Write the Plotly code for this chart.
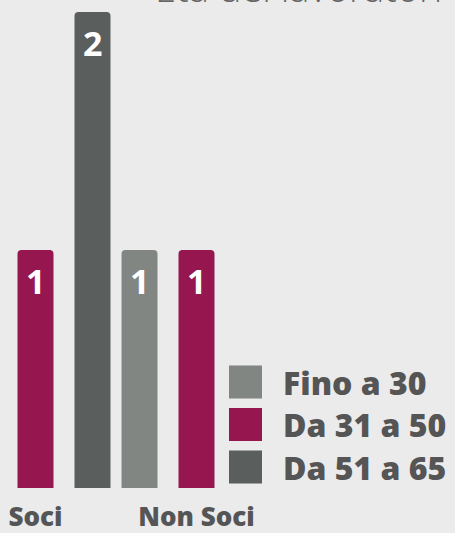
import plotly.graph_objects as go

# ---- data ----
groups = ["Soci", "Non Soci"]
series = ["Fino a 30", "Da 31 a 50", "Da 51 a 65"]
fino_a_30 = [0, 1]
da_31_a_50 = [1, 1]
da_51_a_65 = [2, 0]
title_text = "Età dei lavoratori"

values = [fino_a_30, da_31_a_50, da_51_a_65]
colors = ["#818683", "#961650", "#5a5e5c"]

FONT = "Open Sans"
W, H = 455, 533
M_L, M_R, M_T, M_B = 0, 0, 12, 45
spacing = 0.548
bar_w = 0.346

# position bars: zero values are dropped, remaining bars centred on the group
pos = {}
for gi, g in enumerate(groups):
    nz = [si for si in range(len(series)) if values[si][gi] != 0]
    n = len(nz)
    for r, si in enumerate(nz):
        pos[(si, gi)] = gi + (r - (n - 1) / 2) * spacing

fig = go.Figure()
annotations = []
for si, name in enumerate(series):
    xs, ys = [], []
    for gi in range(len(groups)):
        if (si, gi) in pos:
            xs.append(pos[(si, gi)])
            ys.append(values[si][gi])
    fig.add_trace(go.Bar(
        x=xs, y=ys, name=name, width=bar_w,
        marker=dict(color=colors[si], cornerradius=4, line=dict(width=0)),
        showlegend=False, hoverinfo="skip",
    ))
    for x, y in zip(xs, ys):
        annotations.append(dict(
            x=x, y=y, xref="x", yref="y", text=str(y), showarrow=False,
            yanchor="top", yshift=-6,
            font=dict(family=FONT, size=34, color="white", weight="bold"),
        ))

# tick labels under first bar of first group and last bar of last group
first_bar = min(v for (si, gi), v in pos.items() if gi == 0)
last_bar = max(v for (si, gi), v in pos.items() if gi == len(groups) - 1)

# manual legend (large squares)
plot_h = H - M_T - M_B
leg_x0, leg_sz, leg_text_x = 229, 33, 281
leg_centers = [382, 424.5, 467]
shapes = []
for si, name in enumerate(series):
    cy = leg_centers[si]
    shapes.append(dict(
        type="rect", xref="paper", yref="paper",
        x0=leg_x0 / W, x1=(leg_x0 + leg_sz) / W,
        y0=(H - M_B - (cy + leg_sz / 2)) / plot_h,
        y1=(H - M_B - (cy - leg_sz / 2)) / plot_h,
        fillcolor=colors[si], line=dict(width=0),
    ))
    annotations.append(dict(
        x=leg_text_x / W, y=(H - M_B - cy) / plot_h, xref="paper", yref="paper",
        text=name, showarrow=False, xanchor="left", yanchor="middle",
        font=dict(family=FONT, size=32, color="#555555", weight=800),
    ))

annotations.append(dict(
    x=444 / W, y=1, xref="paper", yref="paper", text=title_text, showarrow=False,
    xanchor="right", yanchor="bottom", yshift=-3,
    font=dict(family=FONT, size=38, color="#666666", weight=300),
))

x_unit = 104.0
x0_px = 64.0
fig.update_layout(
    width=W, height=H,
    margin=dict(l=M_L, r=M_R, t=M_T, b=M_B, pad=0, autoexpand=False),
    paper_bgcolor="#ebebeb", plot_bgcolor="#ebebeb",
    barmode="overlay",
    xaxis=dict(
        range=[-x0_px / x_unit, (W - x0_px) / x_unit],
        tickvals=[first_bar, last_bar], ticktext=groups,
        showgrid=False, zeroline=False, showline=False, ticks="",
        automargin=False,
        ticklabelstandoff=11,
        tickfont=dict(family=FONT, size=26, color="#555555", weight=800),
        fixedrange=True,
    ),
    yaxis=dict(range=[0, 2], visible=False, fixedrange=True, automargin=False),
    shapes=shapes,
    annotations=annotations,
    showlegend=False,
)

fig.write_html(
    "out.html",
    config={"displayModeBar": False},
    post_script="document.body.style.margin='0';document.body.style.background='#ebebeb';",
)
